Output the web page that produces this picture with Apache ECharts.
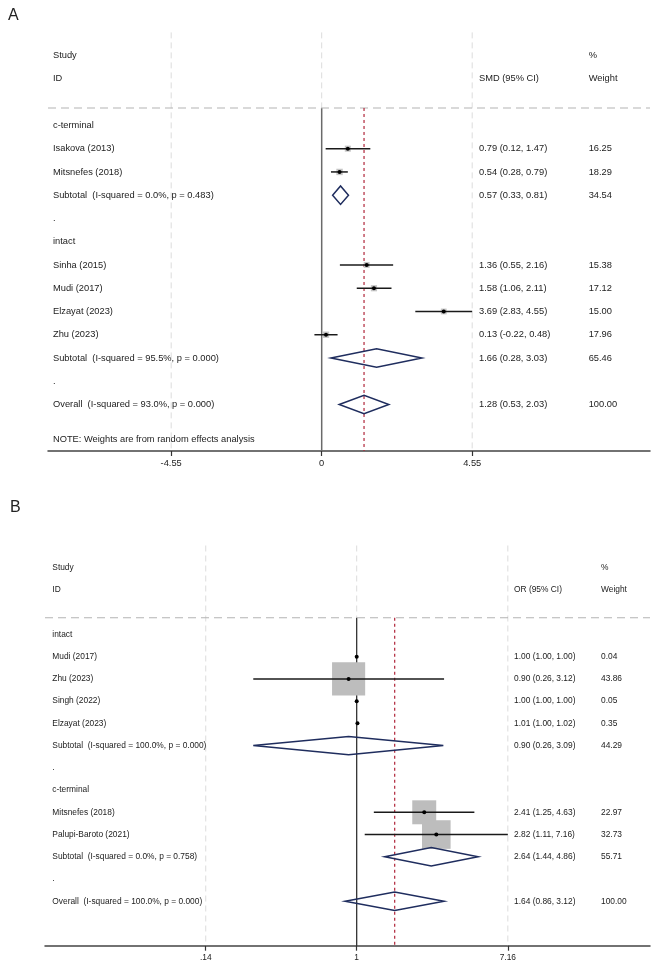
<!DOCTYPE html>
<html>
<head>
<meta charset="utf-8">
<script src="https://cdn.jsdelivr.net/npm/echarts@6/dist/echarts.min.js"></script>
<style>
  html, body { margin: 0; padding: 0; background: #fff; }
  #chart { width: 652px; height: 962px; }
</style>
</head>
<body>
<div id="chart"></div>
<script>
// ---- panel A: SMD ----
const studyNamesA = ['Isakova (2013)', 'Mitsnefes (2018)', 'Sinha (2015)', 'Mudi (2017)', 'Elzayat (2023)', 'Zhu (2023)']
const studyRowsA = [4, 5, 9, 10, 11, 12]
const estA = [0.79, 0.54, 1.36, 1.58, 3.69, 0.13]
const lowA = [0.12, 0.28, 0.55, 1.06, 2.83, -0.22]
const highA = [1.47, 0.79, 2.16, 2.11, 4.55, 0.48]
const weightA = [16.25, 18.29, 15.38, 17.12, 15.00, 17.96]
const poolNamesA = ['Subtotal  (I-squared = 0.0%, p = 0.483)', 'Subtotal  (I-squared = 95.5%, p = 0.000)', 'Overall  (I-squared = 93.0%, p = 0.000)']
const poolRowsA = [6, 13, 15]
const poolEstA = [0.57, 1.66, 1.28]
const poolLowA = [0.33, 0.28, 0.53]
const poolHighA = [0.81, 3.03, 2.03]
const poolWeightA = [34.54, 65.46, 100.00]
const groupNamesA = ['c-terminal', 'intact']
const groupRowsA = [3, 8]
const gapRowsA = [7, 14]
const ticksA = [-4.55, 0, 4.55]
const tickLabelsA = ['-4.55', '0', '4.55']

// ---- panel B: OR ----
const studyNamesB = ['Mudi (2017)', 'Zhu (2023)', 'Singh (2022)', 'Elzayat (2023)', 'Mitsnefes (2018)', 'Palupi-Baroto (2021)']
const studyRowsB = [4, 5, 6, 7, 11, 12]
const estB = [1.00, 0.90, 1.00, 1.01, 2.41, 2.82]
const lowB = [1.00, 0.26, 1.00, 1.00, 1.25, 1.11]
const highB = [1.00, 3.12, 1.00, 1.02, 4.63, 7.16]
const weightB = [0.04, 43.86, 0.05, 0.35, 22.97, 32.73]
const poolNamesB = ['Subtotal  (I-squared = 100.0%, p = 0.000)', 'Subtotal  (I-squared = 0.0%, p = 0.758)', 'Overall  (I-squared = 100.0%, p = 0.000)']
const poolRowsB = [8, 13, 15]
const poolEstB = [0.90, 2.64, 1.64]
const poolLowB = [0.26, 1.44, 0.86]
const poolHighB = [3.09, 4.86, 3.12]
const poolWeightB = [44.29, 55.71, 100.00]
const groupNamesB = ['intact', 'c-terminal']
const groupRowsB = [3, 10]
const gapRowsB = [9, 14]
const ticksB = [0.14, 1, 7.16]
const tickLabelsB = ['.14', '1', '7.16']

const chart = echarts.init(document.getElementById('chart'))
const FONT = '"Liberation Sans", Arial, sans-serif'

function ci(e, l, h) {
  return e.toFixed(2) + ' (' + l.toFixed(2) + ', ' + h.toFixed(2) + ')'
}

// table rows: [row, left text, estimate text, weight text]
function tableRows(p) {
  const rows = [[0, 'Study', '', '%'], [1, 'ID', p.effect + ' (95% CI)', 'Weight']]
  p.groupNames.forEach((g, i) => rows.push([p.groupRows[i], g, '', '']))
  p.gapRows.forEach(r => rows.push([r, '.', '', '']))
  p.studyNames.forEach((n, i) => rows.push([p.studyRows[i], n, ci(p.est[i], p.low[i], p.high[i]), p.weight[i].toFixed(2)]))
  p.poolNames.forEach((n, i) => rows.push([p.poolRows[i], n, ci(p.poolEst[i], p.poolLow[i], p.poolHigh[i]), p.poolWeight[i].toFixed(2)]))
  if (p.note) rows.push([16.5, p.note, '', ''])
  return rows
}

const panels = [
  {
    effect: 'SMD', fx: v => v, note: 'NOTE: Weights are from random effects analysis',
    studyNames: studyNamesA, studyRows: studyRowsA, est: estA, low: lowA, high: highA, weight: weightA,
    poolNames: poolNamesA, poolRows: poolRowsA, poolEst: poolEstA, poolLow: poolLowA, poolHigh: poolHighA, poolWeight: poolWeightA,
    groupNames: groupNamesA, groupRows: groupRowsA, gapRows: gapRowsA, ticks: ticksA, tickLabels: tickLabelsA,
    grid: { left: 48, top: 32.4, width: 602, height: 418.6 },
    xMin: -8.274, xMax: 9.925, cols: [53, 479, 588.7], fontSize: 9.3,
    boxScale: 1.5, boxColor: '#c6c6c6', nullColor: '#6a6a6a', nullWidth: 1.5
  },
  {
    effect: 'OR', fx: v => Math.log(v), note: null,
    studyNames: studyNamesB, studyRows: studyRowsB, est: estB, low: lowB, high: highB, weight: weightB,
    poolNames: poolNamesB, poolRows: poolRowsB, poolEst: poolEstB, poolLow: poolLowB, poolHigh: poolHighB, poolWeight: poolWeightB,
    groupNames: groupNamesB, groupRows: groupRowsB, gapRows: gapRowsB, ticks: ticksB, tickLabels: tickLabelsB,
    grid: { left: 45, top: 545.5, width: 605, height: 400.2 },
    xMin: -4.0597, xMax: 3.820, cols: [52.3, 514, 601], fontSize: 8.4,
    boxScale: 5, boxColor: '#bdbdbd', nullColor: '#222', nullWidth: 1.2
  }
]

const grids = [], xAxes = [], yAxes = [], series = []

panels.forEach((p, k) => {
  grids.push(p.grid)
  const tickVals = p.ticks.map(p.fx)
  xAxes.push({
    type: 'value', gridIndex: k, min: p.xMin, max: p.xMax, position: 'bottom',
    axisLine: { show: true, onZero: false, lineStyle: { color: '#444', width: 1.5 } },
    axisTick: { show: true, customValues: tickVals, length: 5, lineStyle: { color: '#333', width: 1.2 } },
    axisLabel: {
      show: true, customValues: tickVals, margin: 8, color: '#222', fontFamily: FONT, fontSize: p.fontSize,
      formatter: v => {
        let best = 0
        tickVals.forEach((t, i) => { if (Math.abs(t - v) < Math.abs(tickVals[best] - v)) best = i })
        return p.tickLabels[best]
      }
    },
    splitLine: { show: false }
  })
  yAxes.push({ type: 'value', gridIndex: k, inverse: true, min: -1, max: 17, show: false })

  const overall = p.fx(p.poolEst[p.poolEst.length - 1])

  // reference lines
  series.push({
    type: 'custom', xAxisIndex: k, yAxisIndex: k, clip: false, silent: true, z: 1,
    data: [[0, 0]],
    renderItem: (params, api) => {
      const cs = params.coordSys
      const kids = []
      tickVals.forEach(t => {
        const top = api.coord([t, -1]), mid = api.coord([t, 2.25]), bot = api.coord([t, 17])
        if (t === 0) {
          kids.push({ type: 'line', shape: { x1: top[0], y1: top[1], x2: mid[0], y2: mid[1] }, style: { stroke: '#dcdcdc', lineWidth: 1, lineDash: [6, 4] } })
          kids.push({ type: 'line', shape: { x1: mid[0], y1: mid[1], x2: bot[0], y2: bot[1] }, style: { stroke: p.nullColor, lineWidth: p.nullWidth } })
        } else {
          kids.push({ type: 'line', shape: { x1: top[0], y1: top[1], x2: bot[0], y2: bot[1] }, style: { stroke: '#dcdcdc', lineWidth: 1, lineDash: [6, 4] } })
        }
      })
      const h = api.coord([0, 2.25])[1]
      kids.push({ type: 'line', shape: { x1: cs.x, y1: h, x2: cs.x + cs.width, y2: h }, style: { stroke: '#b4b4b4', lineWidth: 1.2, lineDash: [8, 5] } })
      const r1 = api.coord([overall, 2.25]), r2 = api.coord([overall, 17])
      kids.push({ type: 'line', shape: { x1: r1[0], y1: r1[1], x2: r2[0], y2: r2[1] }, style: { stroke: '#b0263a', lineWidth: 1.2, lineDash: [3, 3] } })
      return { type: 'group', children: kids }
    }
  })

  // study boxes and CIs
  series.push({
    type: 'custom', xAxisIndex: k, yAxisIndex: k, clip: false, silent: true, z: 3,
    data: p.est.map((e, i) => [p.fx(e), p.fx(p.low[i]), p.fx(p.high[i]), p.studyRows[i], p.weight[i]]),
    renderItem: (params, api) => {
      const row = api.value(3)
      const pE = api.coord([api.value(0), row])
      const pL = api.coord([api.value(1), row])
      const pH = api.coord([api.value(2), row])
      const side = p.boxScale * Math.sqrt(api.value(4))
      return {
        type: 'group', children: [
          { type: 'rect', shape: { x: pE[0] - side / 2, y: pE[1] - side / 2, width: side, height: side }, style: { fill: p.boxColor } },
          { type: 'line', shape: { x1: pL[0], y1: pL[1], x2: pH[0], y2: pH[1] }, style: { stroke: '#1a1a1a', lineWidth: 1.5 } },
          { type: 'circle', shape: { cx: pE[0], cy: pE[1], r: 2 }, style: { fill: '#000' } }
        ]
      }
    }
  })

  // pooled diamonds
  series.push({
    type: 'custom', xAxisIndex: k, yAxisIndex: k, clip: false, silent: true, z: 4,
    data: p.poolEst.map((e, i) => [p.fx(e), p.fx(p.poolLow[i]), p.fx(p.poolHigh[i]), p.poolRows[i]]),
    renderItem: (params, api) => {
      const row = api.value(3)
      const pE = api.coord([api.value(0), row])
      const pL = api.coord([api.value(1), row])
      const pH = api.coord([api.value(2), row])
      const hh = 9.2
      return {
        type: 'polygon',
        shape: { points: [[pL[0], pL[1]], [pE[0], pE[1] - hh], [pH[0], pH[1]], [pE[0], pE[1] + hh]] },
        style: { fill: 'none', stroke: '#1f2d5e', lineWidth: 1.5 }
      }
    }
  })

  // table text
  const rows = tableRows(p)
  series.push({
    type: 'custom', xAxisIndex: k, yAxisIndex: k, clip: false, silent: true, z: 5,
    data: rows.map(r => [0, r[0]]),
    renderItem: (params, api) => {
      const r = rows[params.dataIndex]
      const y = api.coord([0, api.value(1)])[1]
      const kids = []
      for (let c = 0; c < 3; c++) {
        if (!r[c + 1]) continue
        kids.push({
          type: 'text', x: p.cols[c], y: y,
          style: { text: r[c + 1], fill: '#222', font: p.fontSize + 'px ' + FONT, textAlign: 'left', textVerticalAlign: 'middle' }
        })
      }
      return { type: 'group', children: kids }
    }
  })
})

chart.setOption({
  backgroundColor: '#fff',
  animation: false,
  title: [
    { text: 'A', left: 3, top: 3, textStyle: { fontSize: 16, fontWeight: 'normal', color: '#222', fontFamily: FONT } },
    { text: 'B', left: 5, top: 495, textStyle: { fontSize: 16, fontWeight: 'normal', color: '#222', fontFamily: FONT } }
  ],
  grid: grids,
  xAxis: xAxes,
  yAxis: yAxes,
  series: series
})
</script>
</body>
</html>
